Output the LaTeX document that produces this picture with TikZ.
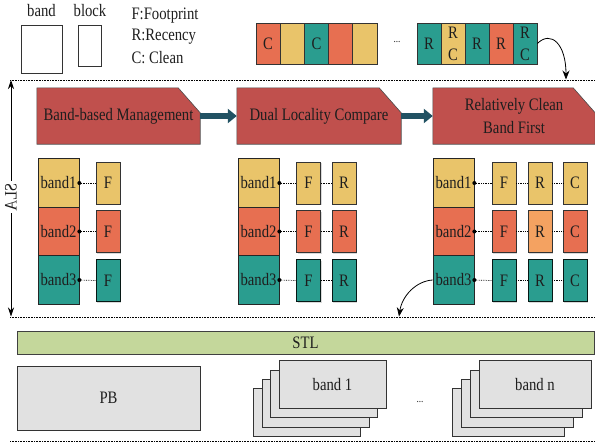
\documentclass[tikz,border=0pt]{standalone}
\usepackage{fontspec}
\setmainfont{Liberation Serif}[FakeStretch=0.84]
\usetikzlibrary{arrows.meta,backgrounds,shadows}
\definecolor{cyel}{HTML}{E9C46A}
\definecolor{cred}{HTML}{E76F51}
\definecolor{cteal}{HTML}{2A9D8F}
\definecolor{corg}{HTML}{F4A261}
\definecolor{cbox}{HTML}{C0504D}
\definecolor{carrow}{HTML}{215263}
\definecolor{cstl}{HTML}{C4D79B}
\definecolor{cgray}{HTML}{E1E1E1}
\definecolor{ink}{HTML}{1E1E1E}

\begin{document}
\begin{tikzpicture}[x=1pt,y=-1pt,
  font=\fontsize{17.5}{20}\selectfont, text=ink,
  cell/.style={draw=black!80, line width=0.7pt, minimum width=24pt, minimum height=42pt,
    inner sep=0pt, drop shadow={shadow xshift=1.4pt, shadow yshift=-1.4pt, opacity=0.3}},
  stripcell/.style={draw=black!80, line width=0.7pt, minimum width=24.2pt, minimum height=41pt, inner sep=0pt,
    align=center, font=\fontsize{17.5}{22}\selectfont},
  bandbox/.style={draw=black!85, line width=0.7pt, minimum width=41pt, minimum height=48.5pt, inner sep=0pt},
  procnode/.style={minimum height=56pt, inner sep=0pt, align=center, font=\fontsize{17.5}{23}\selectfont},
  procshape/.style={fill=cbox, draw=black!70, line width=0.6pt},
  bigarrow/.style={carrow, line width=6pt, -{Triangle[length=9pt,width=14pt]}},
  curvearrow/.style={line width=0.8pt, -{Stealth[length=9pt,width=7pt]}},
  linkdots/.style={densely dotted, line width=0.7pt},
  sepline/.style={densely dotted, line width=0.6pt},
  grayblock/.style={fill=cgray, draw=black!80, line width=0.7pt, inner sep=0pt},
  legendbox/.style={draw=black!80, line width=0.7pt, inner sep=0pt}
]
\useasboundingbox (0,0) rectangle (595,445);

% ---------- legend ----------
\node (lgband) at (41.5,11) {band};
\node (lgblock) at (90,11) {block};
\node[legendbox, minimum width=41pt, minimum height=48pt] (lgbandbox) at (41.5,49) {};
\node[legendbox, minimum width=23pt, minimum height=41pt] (lgblockbox) at (89.5,45.5) {};
\node[anchor=west] (lgf) at (128,16) {F:Footprint};
\node[anchor=west] (lgr) at (128,37) {R:Recency};
\node[anchor=west] (lgc) at (128,58) {C: Clean};

% ---------- block strips ----------
\node[stripcell, fill=cred]  (s1) at (268.1,43.5) {C};
\node[stripcell, fill=cyel]  (s2) at (292.3,43.5) {};
\node[stripcell, fill=cteal] (s3) at (316.5,43.5) {C};
\node[stripcell, fill=cred]  (s4) at (340.7,43.5) {};
\node[stripcell, fill=cyel]  (s5) at (364.9,43.5) {};
\node[font=\fontsize{11}{12}\selectfont] (sdots) at (397,42) {...};
\node[stripcell, fill=cteal, minimum width=24pt] (t1) at (429,43.5) {R};
\node[stripcell, fill=cyel,  minimum width=24pt] (t2) at (453,43.5) {R\\C};
\node[stripcell, fill=cteal, minimum width=24pt] (t3) at (477,43.5) {R};
\node[stripcell, fill=cred,  minimum width=24pt] (t4) at (501,43.5) {R};
\node[stripcell, fill=cteal, minimum width=24pt] (t5) at (525,43.5) {R\\C};

% ---------- separators ----------
\draw[sepline] (10,80) -- (595,80);
\draw[sepline] (10,317) -- (595,317);
\draw[sepline] (10,441) -- (595,441);

\coordinate (drop1) at (566,79.5);
\draw[curvearrow] (t5.east) .. controls (551,30) and (566,44) .. (drop1);

% ---------- SLA axis ----------
\coordinate (slatop) at (11,80);
\coordinate (slabot) at (11,316.5);
\draw[line width=0.8pt, {Stealth[length=9pt,width=6pt]}-{Stealth[length=9pt,width=6pt]}] (slatop) -- (slabot);
\node[fill=white, rotate=90, inner sep=2pt] (sla) at (11,197) {\scalebox{-1}[1]{SLA}};

% ---------- process stages ----------
\node[procnode, minimum width=163pt] (p1) at (118.5,116) {Band-based Management};
\node[procnode, minimum width=164pt] (p2) at (319,116) {Dual Locality Compare};
\node[procnode, minimum width=162pt] (p3) at (514,116) {Relatively Clean\\Band First};
\begin{scope}[on background layer]
  \foreach \p in {p1,p2,p3}
    \path[procshape] (\p.south west) -- (\p.north west) -- ([xshift=-22pt]\p.north east)
      -- ([yshift=-25pt]\p.north east) -- (\p.south east) -- cycle;
\end{scope}
\draw[bigarrow] (p1.east) -- (p2.west);
\draw[bigarrow] (p2.east) -- (p3.west);

% ---------- band columns ----------
\foreach \g/\bx in {1/58.5, 2/258.5, 3/453.5} {
  \node[bandbox, fill=cyel]  (b\g1) at (\bx,183)   {band1};
  \node[bandbox, fill=cred]  (b\g2) at (\bx,231.5) {band2};
  \node[bandbox, fill=cteal] (b\g3) at (\bx,280)   {band3};
}

% stage 1: footprint only
\node[cell, fill=cyel]  (f11) at (108,183)   {F};
\node[cell, fill=cred]  (f12) at (108,231.5) {F};
\node[cell, fill=cteal, draw=black!85!cteal] (f13) at (108,280.5) {F};

% stage 2: footprint and recency
\node[cell, fill=cyel]  (f21) at (308.5,183)   {F};
\node[cell, fill=cred]  (f22) at (308.5,231.5) {F};
\node[cell, fill=cteal, draw=black!85!cteal] (f23) at (308.5,280.5) {F};
\node[cell, fill=cyel]  (r21) at (344,183)   {R};
\node[cell, fill=cred]  (r22) at (344,231.5) {R};
\node[cell, fill=cteal, draw=black!85!cteal] (r23) at (344,280.5) {R};

% stage 3: footprint, recency and cleanliness
\node[cell, fill=cyel]  (f31) at (504,183)   {F};
\node[cell, fill=cred]  (f32) at (504,231.5) {F};
\node[cell, fill=cteal, draw=black!85!cteal] (f33) at (504,280.5) {F};
\node[cell, fill=cyel]  (r31) at (540,183)   {R};
\node[cell, fill=corg]  (r32) at (540,231.5) {R};
\node[cell, fill=cteal, draw=black!85!cteal] (r33) at (540,280.5) {R};
\node[cell, fill=cyel]  (c31) at (575,183)   {C};
\node[cell, fill=cred]  (c32) at (575,231.5) {C};
\node[cell, fill=cteal, draw=black!85!cteal] (c33) at (575,280.5) {C};

% dotted links
\foreach \g in {1,2,3} {
  \foreach \r in {1,2,3} {
    \draw[linkdots] (b\g\r.east) -- (f\g\r.west);
    \fill[black] (b\g\r.east) circle (2pt);
  }
}
\foreach \r in {1,2,3} {
  \draw[linkdots] (f2\r.east) -- (r2\r.west);
  \draw[linkdots] (f3\r.east) -- (r3\r.west);
  \draw[linkdots] (r3\r.east) -- (c3\r.west);
}

\coordinate (drop2) at (399,316.5);
\draw[curvearrow] (b33.west) .. controls (416,281) and (402,296) .. (drop2);

% ---------- storage layer ----------
\node[fill=cstl, draw=black!75, line width=0.7pt, minimum width=577pt, minimum height=23pt, inner sep=0pt]
  (stl) at (305.5,342.5) {STL};
\node[grayblock, minimum width=183pt, minimum height=64pt] (pb) at (108.5,398) {PB};

\foreach \k in {3,2,1}
  \node[grayblock, minimum width=107pt, minimum height=47.5pt] (bonek\k) at (332.5-8.5*\k,384.5+9.3*\k) {};
\node[grayblock, minimum width=107pt, minimum height=47.5pt] (bone) at (332.5,384.5) {band 1};

\node[font=\fontsize{11}{12}\selectfont] (bdots) at (420,402) {...};

\foreach \k in {3,2,1}
  \node[grayblock, minimum width=112pt, minimum height=47.5pt] (bnk\k) at (535-9*\k,384.5+9.3*\k) {};
\node[grayblock, minimum width=112pt, minimum height=47.5pt] (bn) at (535,384.5) {band n};

\end{tikzpicture}
\end{document}
